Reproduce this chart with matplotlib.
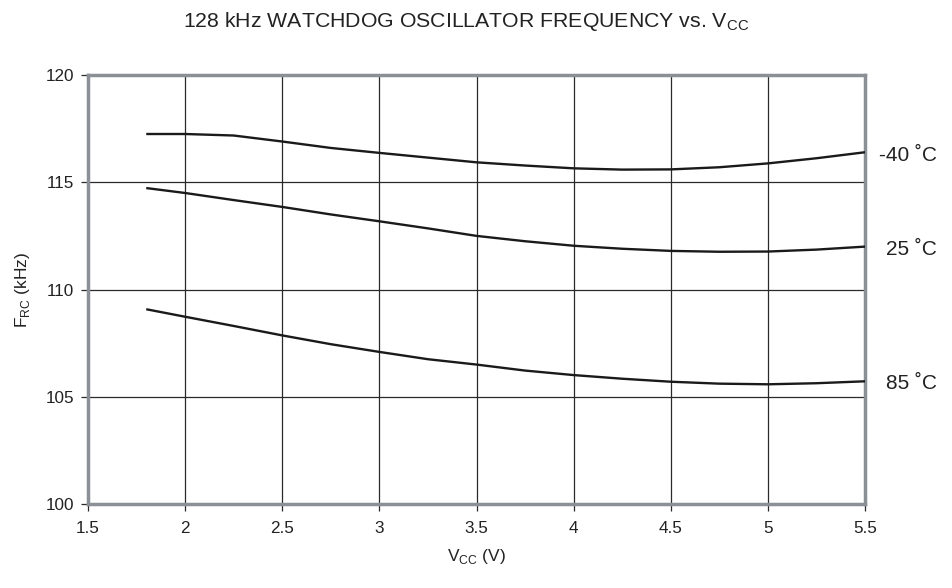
import numpy as np
from matplotlib import pyplot as plt

plt.rcParams['font.family'] = ['Liberation Sans', 'DejaVu Sans']

vcc = [1.8, 2.0, 2.25, 2.5, 2.75, 3.0, 3.25, 3.5, 3.75, 4.0, 4.25, 4.5, 4.75, 5.0, 5.25, 5.5]
f_m40 = [117.25, 117.25, 117.18, 116.9, 116.6, 116.37, 116.15, 115.93, 115.78, 115.65,
         115.59, 115.6, 115.7, 115.88, 116.12, 116.4]
f_25 = [114.73, 114.5, 114.17, 113.85, 113.5, 113.18, 112.85, 112.5, 112.25, 112.04,
        111.9, 111.8, 111.76, 111.77, 111.86, 112.0]
f_85 = [109.08, 108.73, 108.3, 107.86, 107.45, 107.09, 106.75, 106.5, 106.22, 106.01,
        105.84, 105.7, 105.61, 105.58, 105.63, 105.72]

labels = ['-40 ˚C', '25 ˚C', '85 ˚C']
label_y = [116.24, 111.87, 105.6]

fig = plt.figure(figsize=(9.53, 5.88), dpi=100)
ax = fig.add_axes([0.0923, 0.1429, 0.8154, 0.7295])

for f in (f_m40, f_25, f_85):
    ax.plot(vcc, f, color='#1a1a1a', lw=1.7, solid_capstyle='butt', zorder=3)

ax.set_xlim(1.5, 5.5)
ax.set_ylim(100, 120)
ax.set_xticks(np.arange(1.5, 5.51, 0.5))
ax.set_xticklabels(['1.5', '2', '2.5', '3', '3.5', '4', '4.5', '5', '5.5'])
ax.set_yticks([100, 105, 110, 115, 120])
ax.grid(True, color='#2a2a2a', lw=0.9)
ax.set_axisbelow(True)
ax.tick_params(direction='out', length=5, width=0.9, color='#2a2a2a',
               labelsize=12.3, labelcolor='#222222', pad=5)
ax.tick_params(axis='x', pad=7)

for s in ax.spines.values():
    s.set_color('#8a9095')
    s.set_linewidth(2.5)

for lab, y in zip(labels, label_y):
    ax.text(1.0927, y, lab, transform=ax.get_yaxis_transform(), ha='right',
            va='center', fontsize=15, color='#222222')

ax.set_xlabel('V$_{\\mathregular{CC}}$ (V)', fontsize=12.5, color='#222222', labelpad=8)
ax.set_ylabel('F$_{\\mathregular{RC}}$ (kHz)', fontsize=12.5, color='#222222', labelpad=10)
fig.text(0.489, 0.963, '128 kHz WATCHDOG OSCILLATOR FREQUENCY vs. V$_{\\mathregular{CC}}$',
         ha='center', va='center', fontsize=15.3, color='#222222')

fig.savefig('out.png', dpi=100)
